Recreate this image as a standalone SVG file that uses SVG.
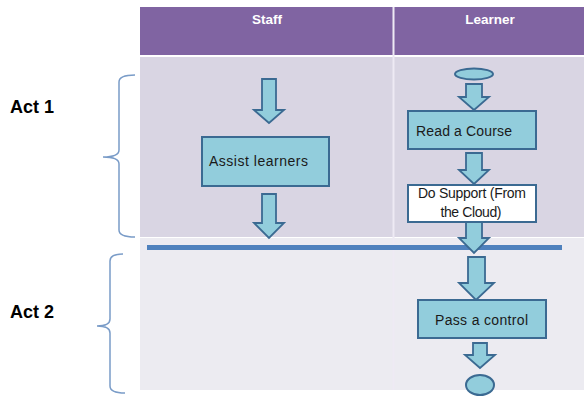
<svg xmlns="http://www.w3.org/2000/svg" width="584" height="396" viewBox="0 0 584 396">
<style>
.box{fill:#92cddc;stroke:#3b6a92;stroke-width:2}
.arr{fill:#92cddc;stroke:#3b6a92;stroke-width:1.8;stroke-linejoin:miter}
.t{font-family:"Liberation Sans",Arial,sans-serif;font-size:14px;fill:#1a1a1a}
.h{font-family:"Liberation Sans",Arial,sans-serif;font-size:13.5px;font-weight:bold;fill:#ffffff}
.act{font-family:"Liberation Sans",Arial,sans-serif;font-size:18px;font-weight:bold;fill:#000}
.brace{fill:none;stroke:#7a9cc8;stroke-width:1.5}
</style>
<rect width="584" height="396" fill="#ffffff"/>
<g id="table">
<rect x="140" y="7" width="444" height="48" fill="#8064a2"/>
<rect x="140" y="57" width="444" height="180" fill="#d9d5e3"/>
<rect x="140" y="238" width="444" height="152" fill="#ecebf1"/>
<line x1="393.5" y1="7" x2="393.5" y2="390" stroke="#eeeaf4" stroke-width="2"/>
<text class="h" x="267" y="24" text-anchor="middle">Staff</text>
<text class="h" x="490" y="24" text-anchor="middle">Learner</text>
</g>
<g id="acts">
<text class="act" x="10" y="113" textLength="44">Act 1</text>
<text class="act" x="10" y="318" textLength="44">Act 2</text>
<path class="brace" d="M135,75 Q119,75 119,82 L119,150 Q119,157 103,157 Q119,157 119,164 L119,230 Q119,237 135,237"/>
<path class="brace" d="M123,254 Q110,254 110,261 L110,319 Q110,326 97,326 Q110,326 110,333 L110,386 Q110,393 125,393"/>
</g>
<g id="sync-bar">
<line x1="147" y1="247.5" x2="562" y2="247.5" stroke="#4f81bd" stroke-width="5"/>
</g>
<g id="connectors">
<path class="arr" d="M262,79 L276,79 L276,110 L284,110 L269,123 L254,110 L262,110 Z"/>
<path class="arr" d="M262,194 L276,194 L276,223 L284,223 L269,238 L254,223 L262,223 Z"/>
<path class="arr" d="M466,84 L482,84 L482,97 L489,97 L474,110 L459,97 L466,97 Z"/>
<path class="arr" d="M466,153 L482,153 L482,170 L489,170 L474,184 L459,170 L466,170 Z"/>
<path class="arr" d="M466,222 L482,222 L482,238 L489,238 L474,253 L459,238 L466,238 Z"/>
<path class="arr" d="M468,257 L485,257 L485,283 L494,283 L476,300 L459,283 L468,283 Z"/>
<path class="arr" d="M473,343 L487,343 L487,355 L495,355 L480,368 L465,355 L473,355 Z"/>
</g>
<g id="start">
<ellipse class="box" cx="474" cy="74" rx="19" ry="5.5"/>
</g>
<g id="assist">
<rect class="box" x="202" y="137" width="127" height="49"/>
<text class="t" x="209" y="166" textLength="99">Assist learners</text>
</g>
<g id="read">
<rect class="box" x="408" y="111" width="128" height="38"/>
<text class="t" x="416" y="136" textLength="96">Read a Course</text>
</g>
<g id="support">
<rect x="408" y="185" width="128" height="37" fill="#ffffff" stroke="#3b6a92" stroke-width="2"/>
<text class="t" x="472" y="198" text-anchor="middle" font-size="12" textLength="108">Do Support (From</text>
<text class="t" x="471" y="217" text-anchor="middle" font-size="12" textLength="61">the Cloud)</text>
</g>
<g id="pass">
<rect class="box" x="418" y="300" width="128" height="38"/>
<text class="t" x="435" y="325" textLength="93">Pass a control</text>
</g>
<g id="end">
<ellipse class="box" cx="480" cy="385" rx="14" ry="10"/>
</g>
</svg>
